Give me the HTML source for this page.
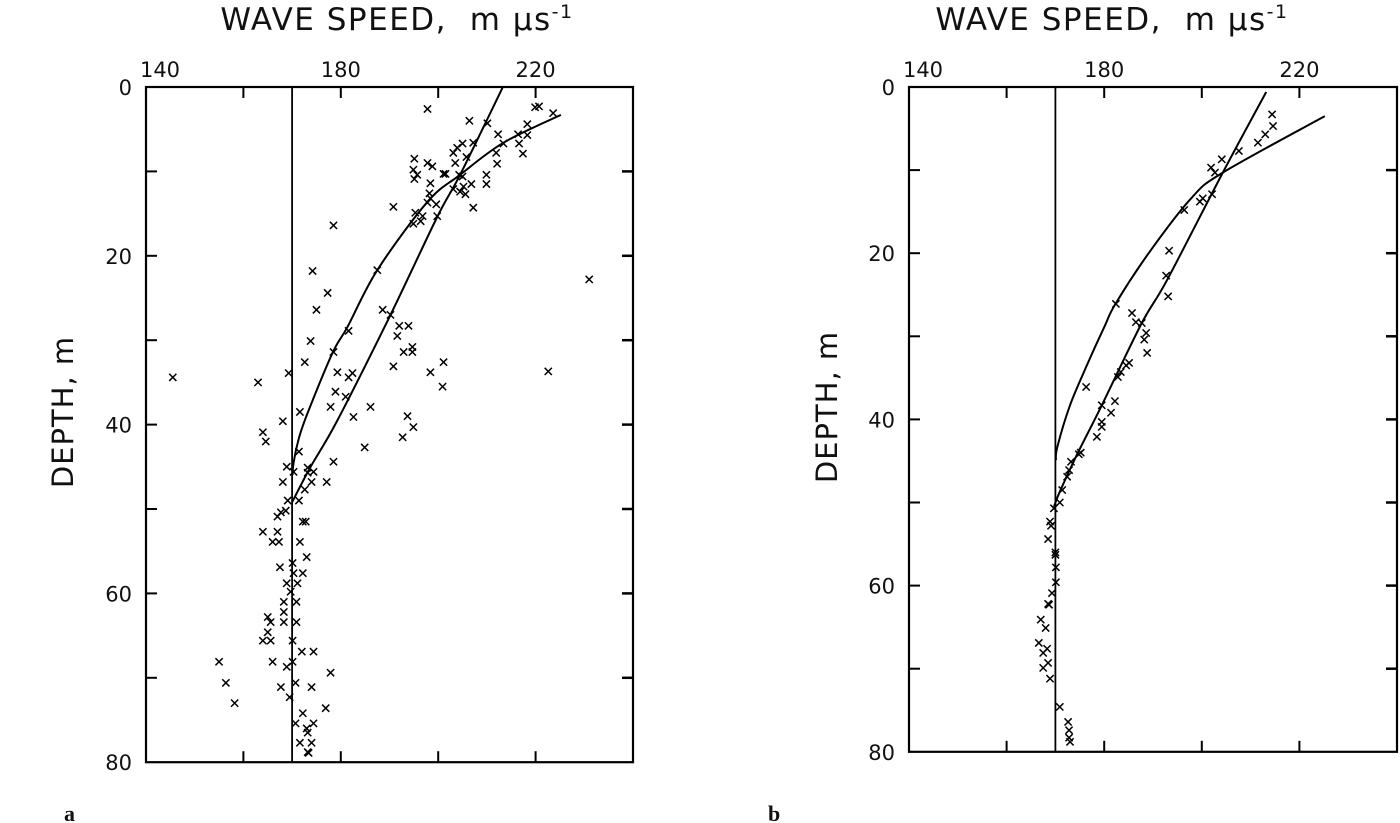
<!DOCTYPE html>
<html><head><meta charset="utf-8"><style>
html,body{margin:0;padding:0;background:#fff;}
svg{display:block;}
text{font-family:"DejaVu Sans","Liberation Sans",sans-serif;fill:#111;}
</style></head><body>
<svg id="chart" width="1400" height="823" viewBox="0 0 1400 823" xmlns="http://www.w3.org/2000/svg"></svg>
<script>
// Panel a data
const aSpeed = [197.8,206.4,210.1,219.9,220.7,223.6,218.3,212.3,216.4,218.3,207.2,213.4,205,203.9,203.1,216.6,217.4,211.9,205.8,203.5,212.1,195.1,197.8,198.8,194.9,195.7,195.1,201.1,201.5,204.3,205,209.9,209.9,198.4,206.8,203.1,204.5,205.6,205.2,198.2,198.4,197.8,199.6,207.2,190.8,195.3,196.8,196.4,194.9,199.8,178.5,174.2,187.5,231,177.3,175,188.6,190.2,192,193.9,191.6,181.6,173.8,178.5,192.9,194.7,194.7,172.6,201.1,190.8,145.5,163,169.3,179.3,182.4,181.6,198.4,222.6,200.9,178.9,181,177.9,186.1,182.6,193.7,194.9,192.7,171.6,168.1,164,164.6,184.9,178.5,171.4,168.9,170.3,173.2,174.4,173.2,168.1,174,177.1,172.6,169.1,171.4,168.7,167.7,167,172.2,172.8,164,167,166,167.3,171.6,173,167.5,170.1,170.3,172.2,168.9,171.1,169.7,168.3,170.9,168.3,165,165.6,168.3,170.9,165,164,165.6,170.1,172,174.4,155,166,170.1,168.9,177.9,156.4,170.7,167.7,174,169.5,158.2,176.9,172.2,170.7,174.4,173,173.2,171.6,174,173.2,173.4];
const aDepth = [2.6,4.0,4.3,2.4,2.3,3.1,4.4,5.6,5.6,5.7,6.6,6.7,6.7,7.2,7.8,6.7,7.9,7.8,8.3,9.0,9.1,8.5,9.0,9.4,9.8,10.4,10.9,10.3,10.3,10.4,10.6,10.4,11.5,11.4,11.5,12.1,12.4,12.7,11.8,12.6,13.2,13.7,13.9,14.3,14.2,14.9,15.3,15.9,16.2,15.3,16.4,21.8,21.7,22.8,24.4,26.4,26.4,27,28.3,28.3,29.5,28.9,30.1,31.4,31.4,30.8,31.4,32.6,32.6,33.1,34.4,35,33.9,33.8,33.9,34.4,33.8,33.7,35.5,36.1,36.7,37.9,37.9,39.1,39,40.3,41.5,38.5,39.6,40.9,42,42.7,44.4,43.2,45,45.6,45.1,45.6,45.7,46.8,46.8,46.8,47.7,49,49,50.2,50.4,50.9,51.5,51.5,52.7,52.7,53.9,53.9,53.9,55.7,56.9,56.4,57.6,57.6,58.8,58.8,59.8,61,61,62.2,62.8,63.4,63.4,63.4,64.6,65.6,65.6,65.6,66.9,66.9,68.1,68.1,68.1,68.7,69.4,70.6,70.6,71.1,71.1,72.3,73,73.6,74.2,75.4,75.4,76,76.5,77.7,77.7,78.8,78.9];
const aFit1Speed = [213.2,204.5,199.8,190.2,179.3,173.8,170];
const aFit1Depth = [0.1,10.4,15.4,27,39.5,45,49.2];
const aFit2Speed = [225.2,213.4,204.5,197.8,187.5,181.4,178.3,173.2,171.4,170.3,170.1];
const aFit2Depth = [3.3,6.6,10.4,13.6,21.7,28.4,31.5,38.6,41.6,44.5,46];
// Panel b data
const bSpeed = [214.4,214.6,213,211.5,207.6,204.1,201.9,202.7,202.1,200.2,199.6,196.4,193.3,192.7,193.1,182.4,185.7,186.5,187.7,188.6,188.2,188.8,185.1,184.5,183.4,182.8,176.3,182.2,179.5,181.4,179.5,179.5,178.5,174.8,175.2,173.2,172.8,172.4,171.4,170.9,169.7,168.9,169.1,168.5,170,170,170.1,170.1,169.3,168.5,168.7,167,168,166.6,168.3,167.5,168.5,167.5,168.9,170.9,172.6,172.8,172.8,173];
const bDepth = [3.3,4.7,5.7,6.7,7.7,8.7,9.7,10.3,12.9,13.4,13.8,14.8,19.7,22.7,25.2,26.1,27.2,28.3,28.4,29.6,30.4,32,33.2,33.5,34.3,34.9,36.1,37.8,38.3,39.2,40.3,40.9,42.1,44.2,44,45.1,46.1,46.9,48.5,50,50.7,52.3,52.8,54.4,56,56.3,57.8,59.6,60.9,62.2,62.3,64.1,65.1,66.9,67.6,68.1,69.3,69.9,71.2,74.6,76.4,77.4,78.3,78.8];
const bFit1Speed = [213.2,204.3,192.9,187.7,179.5,174.2,170.9,169.7];
const bFit1Depth = [0.6,10.3,23.2,28.4,38.3,44.5,48.7,50.5];
const bFit2Speed = [225.2,204.3,197.8,189.6,182.4,180,176.3,173,170.4,170.1];
const bFit2Depth = [3.5,10.3,13.4,19.6,26,28.9,33.7,38.3,43.3,44.9];
const xTickVals = [160,180,200,220];
const xTickLabels = ["140","180","220"];
const xLabelVals = [140,180,220];
const yTickVals = [10,20,30,40,50,60,70];
const yLabelVals = [0,20,40,60,80];
const refSpeed = 170;

const NS="http://www.w3.org/2000/svg";
const svg=document.getElementById('chart');
function mk(tag,attrs,parent){const e=document.createElementNS(NS,tag);for(const k in attrs)e.setAttribute(k,attrs[k]);(parent||svg).appendChild(e);return e;}
function smoothPath(P){
  let d=`M${P[0][0].toFixed(1)},${P[0][1].toFixed(1)}`;
  for(let i=0;i<P.length-1;i++){
    const p0=P[i-1]||P[i],p1=P[i],p2=P[i+1],p3=P[i+2]||P[i+1];
    const c1=[p1[0]+(p2[0]-p0[0])/6,p1[1]+(p2[1]-p0[1])/6];
    const c2=[p2[0]-(p3[0]-p1[0])/6,p2[1]-(p3[1]-p1[1])/6];
    d+=`C${c1[0].toFixed(1)},${c1[1].toFixed(1)} ${c2[0].toFixed(1)},${c2[1].toFixed(1)} ${p2[0].toFixed(1)},${p2[1].toFixed(1)}`;
  }
  return d;
}

function panel(cfg){
  const g=mk('g',{});
  
  
  const X=v=>cfg.x0+(v-140)*cfg.sx;
  const Y=d=>cfg.y0+d*cfg.sy;
  const right=X(240), bottom=Y(80);
  const frame=mk('rect',{x:cfg.x0,y:cfg.y0,width:right-cfg.x0,height:bottom-cfg.y0,fill:'none',stroke:'#000','stroke-width':2.2},g);
  
  
  xTickVals.forEach(v=>{
    const t1=mk('line',{x1:X(v),x2:X(v),y1:cfg.y0,y2:cfg.y0+11,stroke:'#000','stroke-width':2},g);
    
    
    const t2=mk('line',{x1:X(v),x2:X(v),y1:bottom,y2:bottom-11,stroke:'#000','stroke-width':2},g);
    
    
  });
  yTickVals.forEach(d=>{
    const t1=mk('line',{x1:cfg.x0,x2:cfg.x0+11,y1:Y(d),y2:Y(d),stroke:'#000','stroke-width':2},g);
    
    
    const t2=mk('line',{x1:right,x2:right-11,y1:Y(d),y2:Y(d),stroke:'#000','stroke-width':2.5},g);
    
    
  });
  xLabelVals.forEach((v,i)=>{
    const t=mk('text',{x:X(v)+(i==0?14:0),y:cfg.y0-10,'font-size':21,'text-anchor':'middle'},g);
    t.textContent=xTickLabels[i];
    
    
  });
  yLabelVals.forEach(d=>{
    const t=mk('text',{x:cfg.x0-14,y:Y(d)+8,'font-size':21,'text-anchor':'end'},g);
    t.textContent=String(d);
    
    
  });
  const tt=mk('text',{x:cfg.titleX,y:30,'font-size':31,'letter-spacing':1.5,'text-anchor':'middle'},g);
  tt.innerHTML='WAVE SPEED,&#160; m &#956;s<tspan font-size="19" dy="-12">-1</tspan>';
  
  
  const yt=mk('text',{x:0,y:0,'font-size':29,'letter-spacing':1,'text-anchor':'middle',transform:`translate(${cfg.yTitleX},${cfg.yTitleY}) rotate(-90)`},g);
  yt.textContent='DEPTH,  m';
  
  
  const ref=mk('line',{x1:X(refSpeed),x2:X(refSpeed),y1:cfg.y0,y2:bottom,stroke:'#000','stroke-width':1.8},g);
  
  
  [[cfg.f1s,cfg.f1d,'fit-curve-1'],[cfg.f2s,cfg.f2d,'fit-curve-2']].forEach(([s,d,n])=>{
    const P=s.map((v,i)=>[X(v),Y(d[i])]);
    const p=mk('path',{d:smoothPath(P),fill:'none',stroke:'#000','stroke-width':2,'stroke-linejoin':'round'},g);
    
    
  });
  cfg.ps.forEach((v,i)=>{
    const cx=X(v), cy=Y(cfg.pd[i]), r=3.6;
    const m=mk('path',{d:`M${cx-r},${cy-r}L${cx+r},${cy+r}M${cx-r},${cy+r}L${cx+r},${cy-r}`,stroke:'#000','stroke-width':1.5,fill:'none'},g);
    
    
  });
  const pl=mk('text',{x:cfg.letterX,y:821,'font-size':22,'font-weight':'bold',style:'font-family:"Liberation Serif",serif'},g);
  pl.textContent=cfg.letter;
  
  
}
panel({name:'panel-a',x0:146,y0:87,sx:4.87,sy:8.44,ps:aSpeed,pd:aDepth,f1s:aFit1Speed,f1d:aFit1Depth,f2s:aFit2Speed,f2d:aFit2Depth,titleX:397,yTitleX:73,yTitleY:412,letter:'a',letterX:64});
panel({name:'panel-b',x0:909,y0:87,sx:4.88,sy:8.31,ps:bSpeed,pd:bDepth,f1s:bFit1Speed,f1d:bFit1Depth,f2s:bFit2Speed,f2d:bFit2Depth,titleX:1112,yTitleX:837,yTitleY:407,letter:'b',letterX:768});
</script>
</body></html>
